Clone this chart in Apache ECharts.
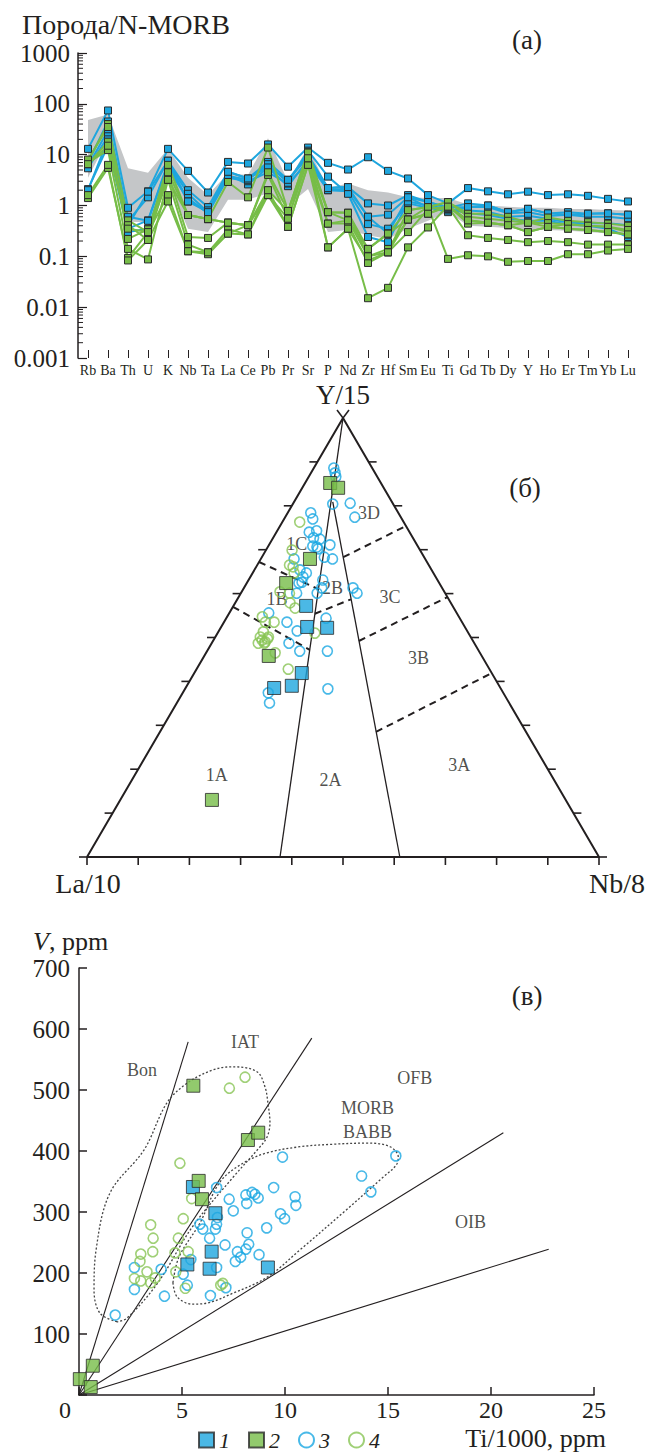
<!DOCTYPE html>
<html>
<head>
<meta charset="utf-8">
<script src="https://cdn.jsdelivr.net/npm/echarts@6.0.0/dist/echarts.min.js"></script>
<style>
html,body{margin:0;padding:0;background:#fff;overflow:hidden;}
#chart{width:646px;height:1452px;}
</style>
</head>
<body>
<div id="chart"></div>
<script>
// ================= Panel (a): spider diagram, rock / N-MORB =================
const elements = ['Rb','Ba','Th','U','K','Nb','Ta','La','Ce','Pb','Pr','Sr','P','Nd','Zr','Hf','Sm','Eu','Ti','Gd','Tb','Dy','Y','Ho','Er','Tm','Yb','Lu'];
const yTickLabelsA = ['0.001','0.01','0.1','1','10','100','1000'];

const blueA1 = [13, 74, 0.9, 1.9, 13, 4.8, 1.8, 7.2, 6.7, 15.9, 5.8, 13.8, 6.9, 5.1, 8.9, 4.8, 3.4, 1.6, 1.1, 2.2, 1.9, 1.66, 1.87, 1.6, 1.66, 1.55, 1.35, 1.2];
const blueA2 = [6, 30, 0.5, 1.45, 7.6, 2.0, 0.93, 4.6, 3.4, 7.2, 3.2, 10, 2.2, 2.3, 1.1, 1.0, 1.6, 1.17, 0.9, 1.1, 1.0, 0.74, 0.86, 0.7, 0.74, 0.69, 0.7, 0.66];
const blueA3 = [5.4, 23, 0.35, 0.51, 7, 1.7, 0.74, 4.0, 2.6, 5.6, 2.4, 8, 2.0, 2.1, 0.6, 0.66, 1.45, 0.93, 0.74, 0.93, 0.93, 0.7, 0.74, 0.62, 0.66, 0.6, 0.6, 0.55];
const blueA4 = [2.1, 15, 0.3, 0.35, 5, 1.4, 0.7, 3.5, 3.0, 4.5, 2.7, 7, 2.0, 1.9, 0.43, 0.35, 1.1, 0.9, 0.8, 0.8, 0.75, 0.6, 0.63, 0.55, 0.46, 0.45, 0.45, 0.41];
const blueA5 = [7, 45, 0.6, 0.5, 6.5, 1.2, 0.8, 3.8, 3.2, 6.5, 2.8, 12, 3.7, 1.7, 0.24, 0.19, 1.2, 1.0, 0.85, 0.7, 0.65, 0.55, 0.5, 0.5, 0.42, 0.4, 0.35, 0.24];
const blueA6 = [2.0, 20, 0.4, 1.87, 7.6, 1.2, 0.74, 4.6, 3.4, 5.6, 3.2, 9, 2.2, 2.3, 0.6, 0.28, 1.45, 1.17, 0.9, 0.93, 1.0, 0.74, 0.86, 0.7, 0.66, 0.69, 0.7, 0.66];

const greenA1 = [7.5, 40, 0.51, 0.3, 6.3, 0.65, 0.54, 2.9, 1.45, 13.8, 0.78, 11.4, 0.74, 0.72, 0.14, 0.28, 0.81, 0.93, 1.17, 0.69, 0.69, 0.6, 0.46, 0.58, 0.5, 0.47, 0.44, 0.4];
const greenA2 = [6.5, 18, 0.41, 0.21, 4.3, 0.24, 0.23, 0.46, 0.41, 4.0, 0.55, 8.5, 0.44, 0.51, 0.1, 0.14, 0.53, 0.69, 1.0, 0.51, 0.46, 0.41, 0.3, 0.38, 0.35, 0.33, 0.3, 0.27];
const greenA3 = [7, 12.3, 0.14, 0.087, 3.2, 0.17, 0.12, 0.34, 0.27, 2.0, 0.38, 6.3, 0.15, 0.35, 0.083, 0.12, 0.3, 0.85, 0.95, 0.26, 0.23, 0.21, 0.19, 0.2, 0.19, 0.17, 0.17, 0.17];
const greenA4 = [1.4, 5.5, 0.093, 0.3, 1.6, 0.126, 0.11, 0.28, 0.27, 1.6, 0.38, 6.3, 0.44, 0.44, 0.074, 0.12, 0.81, 0.93, 0.089, 0.105, 0.1, 0.078, 0.081, 0.081, 0.11, 0.11, 0.13, 0.14];
const greenA5 = [1.6, 6.3, 0.083, 0.21, 1.2, 0.126, 0.12, 0.28, 0.41, 1.6, 0.55, 8.5, 0.15, 0.35, 0.015, 0.024, 0.15, 0.37, 1.0, 0.44, 0.46, 0.41, 0.46, 0.38, 0.43, 0.4, 0.38, 0.3];
const greenA6 = [8, 35, 0.22, 0.34, 4.5, 0.65, 0.54, 0.46, 0.41, 4.5, 0.78, 11, 0.74, 0.51, 0.14, 0.28, 0.53, 0.93, 1.17, 0.6, 0.55, 0.5, 0.46, 0.45, 0.43, 0.4, 0.38, 0.33];
const greenA7 = [6.5, 15, 0.35, 0.3, 3.2, 0.65, 0.54, 0.46, 0.41, 2.0, 0.78, 8.5, 0.74, 0.72, 0.1, 0.12, 0.53, 0.69, 0.95, 0.51, 0.46, 0.41, 0.3, 0.38, 0.35, 0.33, 0.3, 0.27];

const greyUpper = [48, 62, 5.4, 4.4, 13, 3.5, 1.6, 4.3, 4.0, 21, 3.0, 14, 2.2, 2.7, 2.0, 1.8, 1.45, 1.4, 1.4, 1.05, 1.0, 0.95, 0.9, 0.9, 0.85, 0.85, 0.82, 0.8];
const greyLower = [3.5, 20, 0.48, 0.47, 3.0, 0.35, 0.3, 1.3, 1.3, 1.75, 1.0, 2.1, 0.3, 0.33, 0.26, 0.22, 0.35, 0.5, 0.75, 0.4, 0.38, 0.36, 0.33, 0.33, 0.32, 0.3, 0.28, 0.27];

// ================= Panel (б): La/10 – Y/15 – Nb/8 ternary, [La, Y, Nb] % =================
const triBlueSquares = [[28.6,57.2,14.2],[30.8,52.4,16.8],[27.0,52.2,20.8],[37.1,41.9,21.0],[40.5,39.0,20.5],[44.2,38.5,17.3]];
const triGreenSquares = [[9.9,85.2,4.9],[8.9,84.1,7.0],[22.5,67.9,9.6],[29.9,62.4,7.7],[41.6,45.8,12.6],[69.1,13.0,17.9]];
const triBlueCircles = [[7.5,88.6,3.9],[7.8,87.5,4.7],[8.1,86.6,5.3],[11.8,80.4,7.8],[8.3,80.6,11.1],[9.0,77.4,13.6],[17.1,78.4,4.5],[17.4,77.0,5.6],[19.6,74.0,6.4],[18.0,74.3,7.7],[19.4,72.7,7.9],[20.5,70.8,8.7],[19.8,70.6,9.6],[19.8,70.2,10.0],[17.0,71.1,11.9],[19.5,68.3,12.2],[18.1,67.9,14.0],[25.6,67.9,6.5],[25.7,65.4,8.9],[24.8,64.7,10.5],[26.7,62.6,10.7],[25.9,63.8,10.3],[27.4,62.4,10.2],[22.4,63.1,14.5],[23.5,61.3,15.2],[25.0,60.1,14.9],[17.4,61.3,21.3],[17.2,60.1,22.7],[29.0,60.1,10.9],[36.7,55.6,7.7],[34.2,53.5,12.3],[33.2,51.5,15.3],[26.1,54.4,19.5],[36.2,48.7,15.1],[35.0,46.9,18.1],[29.6,46.9,23.5],[33.8,38.3,27.9],[45.9,37.4,16.7],[46.8,35.1,18.1],[18.3,72.4,9.3]];
const triGreenCircles = [[20.3,76.3,3.4],[25.0,69.9,5.1],[26.7,66.1,7.2],[27.2,64.7,8.1],[32.1,60.4,7.5],[30.4,60.1,9.5],[31.4,57.9,10.7],[31.0,56.7,12.3],[38.4,54.7,6.9],[38.4,53.5,8.1],[36.7,53.5,9.8],[39.9,51.3,8.8],[41.1,50.1,8.8],[41.1,49.4,9.5],[40.7,49.0,10.3],[39.5,50.1,10.4],[42.2,48.7,9.1],[41.0,48.7,10.3],[39.9,49.7,10.4],[40.0,46.5,13.5],[39.3,42.8,17.9],[30.0,51.0,19.0],[27.2,66.5,6.3]];
// field boundaries [La, Y, Nb]
const triLineLeft = [[0,100,0],[62.3,0,37.7]];
const triLineRight = [[11.55,80.9,7.55],[38.9,0,61.1]];
const triDashed = [
  [[32.8,67.2,0],[24.3,61.0,14.7]],
  [[43.0,57.0,0],[32.9,47.2,19.9]],
  [[27.8,55.4,16.8],[19.1,58.7,22.2]],
  [[15.8,68.3,15.9],[0,75.4,24.6]],
  [[22.3,49.2,28.5],[0,59.2,40.8]],
  [[29.3,28.5,42.2],[0,41.9,58.1]]
];
const triFieldNames = ['1A','1B','1C','2A','2B','3A','3B','3C','3D'];
const triFieldPos = [[65.3,18.7,16.0],[33.5,58.8,7.7],[23.4,71.3,5.3],[43.7,17.5,38.8],[21.4,61.3,17.3],[16.8,21.0,62.2],[12.6,45.3,42.1],[11.2,59.2,29.6],[5.7,78.4,15.9]];

// ================= Panel (в): V vs Ti/1000 =================
const vBlueSquares = [[5.53,341],[6.62,298],[6.44,235],[5.26,214],[6.34,207],[9.17,209]];
const vGreenSquares = [[5.55,507],[8.2,418],[8.7,430],[5.81,351],[5.97,321],[0.67,48],[0.04,26],[0.57,13]];
const vBlueCircles = [[9.88,390],[15.38,392],[13.72,359],[14.17,333],[6.68,340],[9.45,340],[8.1,328],[8.4,332],[8.54,329],[8.7,323],[7.29,321],[10.49,325],[10.53,311],[8.14,314],[7.49,302],[9.78,297],[9.98,289],[9.11,274],[6.72,291],[6.68,280],[6.62,272],[5.87,280],[6.01,272],[8.16,266],[6.34,257],[7.09,246],[8.24,247],[8.1,239],[7.69,235],[7.85,226],[7.59,219],[8.74,230],[5.43,222],[6.68,209],[5.06,198],[5.26,180],[7.13,176],[6.38,163],[4.15,162],[3.99,206],[2.69,209],[2.69,173],[1.76,131]];
const vGreenCircles = [[7.3,503],[8.06,521],[4.9,380],[5.06,289],[3.48,279],[3.6,257],[4.82,257],[3.58,235],[4.66,233],[5.3,235],[3.0,231],[2.96,219],[2.69,191],[3.0,187],[3.3,202],[3.7,192],[3.48,184],[4.7,202],[5.16,175],[6.88,180],[6.98,183],[5.47,322]];
const vRatioNames = ['10','20','50','100'];
const vRatioEnds = [[5.3,579],[11.3,585],[20.6,430],[22.8,239]];
const iatField = [[1.84,120],[1.02,134],[0.73,172],[0.83,238],[1.5,331],[3.16,402],[4.27,479],[5.24,511],[6.5,533],[7.48,538],[8.64,530],[9.03,505],[9.17,479],[9.27,446],[9.13,423],[8.79,407],[7.48,357],[5.49,275],[3.83,184],[2.33,126],[1.84,120]];
const morbField = [[4.56,184],[4.76,161],[5.49,149],[6.26,151],[7.48,167],[9.13,193],[10.73,238],[12.96,303],[14.76,357],[15.4,377],[15.5,390],[15.1,407],[14.0,413],[12.3,411],[10.73,407],[9.13,397],[7.96,380],[6.84,349],[5.87,282],[4.85,226],[4.56,184]];
const vFieldNames = ['Bon','IAT','OFB','MORB','BABB','OIB'];
const vFieldPos = [[3.06,533],[8.06,579],[16.3,520],[14.0,470],[14.0,431],[19.0,284]];

// ================= styling =================
const FONT = '"Liberation Serif", "Times New Roman", serif';
const TXT = '#231f20';
const BLUE = '#1ea6de';
const GREEN = '#77bd48';
const BLUE_C = '#1aa8e2';
const GREEN_C = '#88c455';
const EDGE = '#2b2b2b';

const tern = (t) => { const s = t[0] + t[1] + t[2]; return [(t[2] + t[1] / 2) / s * 100, t[1] / s * 100]; };

const series = [];

// grey field
series.push({
  type: 'custom', xAxisIndex: 0, yAxisIndex: 0, silent: true, z: 1,
  data: [[0, 1]],
  renderItem: (params, api) => {
    const pts = [];
    for (let i = 0; i < elements.length; i++) pts.push(api.coord([i, greyUpper[i]]));
    for (let i = elements.length - 1; i >= 0; i--) pts.push(api.coord([i, greyLower[i]]));
    return { type: 'polygon', shape: { points: pts }, style: { fill: '#c4c6c8' } };
  }
});
// minor log ticks
const minorTicks = [];
for (let k = -3; k < 3; k++) for (let m = 2; m <= 9; m++) minorTicks.push([0, m * Math.pow(10, k)]);
series.push({
  type: 'custom', xAxisIndex: 0, yAxisIndex: 0, silent: true, z: 2,
  data: minorTicks,
  renderItem: (params, api) => {
    const y = api.coord([0, api.value(1)])[1];
    const x0 = params.coordSys.x;
    return { type: 'line', shape: { x1: x0, y1: y, x2: x0 + 5, y2: y }, style: { stroke: TXT, lineWidth: 1 } };
  }
});
const lineA = (arr, color, name) => ({
  type: 'line', name, xAxisIndex: 0, yAxisIndex: 0, data: arr, silent: true, z: 3,
  symbol: 'rect', symbolSize: 7,
  lineStyle: { color, width: 2 },
  itemStyle: { color, borderColor: EDGE, borderWidth: 1 }
});
[blueA1, blueA2, blueA3, blueA4, blueA5, blueA6].forEach((a, i) => series.push(lineA(a, BLUE, 'blueA' + i)));
[greenA1, greenA2, greenA3, greenA4, greenA5, greenA6, greenA7].forEach((a, i) => series.push(lineA(a, GREEN, 'greenA' + i)));

// ---- ternary ----
const triLine = (pts, width, type) => ({
  type: 'line', xAxisIndex: 1, yAxisIndex: 1, data: pts.map(tern), silent: true, z: 2,
  symbol: 'none', lineStyle: { color: TXT, width, type: type || 'solid' }
});
series.push(triLine([[100,0,0],[0,100,0],[0,0,100],[100,0,0]], 2));
series.push(triLine(triLineLeft, 1.3));
series.push(triLine(triLineRight, 1.3));
triDashed.forEach(d => series.push(triLine(d, 2, [7, 5])));
// ternary ticks
const triTicks = [];
for (let t = 0; t <= 10; t++) triTicks.push([...tern([100 - 10 * t, 0, 10 * t]), 2]);
for (let t = 0; t <= 9; t++) { triTicks.push([...tern([100 - 10 * t, 10 * t, 0]), 0]); triTicks.push([...tern([0, 10 * t, 100 - 10 * t]), 1]); }
triTicks.push([...tern([0, 100, 0]), 3]);
series.push({
  type: 'custom', xAxisIndex: 1, yAxisIndex: 1, silent: true, z: 2,
  data: triTicks,
  renderItem: (params, api) => {
    const p = api.coord([api.value(0), api.value(1)]);
    const e = api.value(2);
    const st = { stroke: TXT, lineWidth: 1.6 };
    if (e === 3) return { type: 'group', children: [
      { type: 'line', shape: { x1: p[0], y1: p[1], x2: p[0] - 6, y2: p[1] - 8 }, style: st },
      { type: 'line', shape: { x1: p[0], y1: p[1], x2: p[0] + 6, y2: p[1] - 8 }, style: st }] };
    let x2 = p[0], y2 = p[1];
    if (e === 0) x2 -= 8; else if (e === 1) x2 += 8; else y2 += 8;
    return { type: 'line', shape: { x1: p[0], y1: p[1], x2, y2 }, style: st };
  }
});
series.push({
  type: 'scatter', xAxisIndex: 1, yAxisIndex: 1, silent: true, z: 5, symbolSize: 1,
  itemStyle: { color: 'rgba(0,0,0,0)' },
  label: { show: true, position: 'inside', formatter: '{b}', fontFamily: FONT, fontSize: 18, color: TXT },
  data: triFieldNames.map((n, i) => ({ name: n, value: tern(triFieldPos[i]) }))
});
const circleStyle = (c) => ({ color: 'rgba(0,0,0,0)', borderColor: c, borderWidth: 1.6 });
const squareStyle = (c) => ({ color: c, borderColor: EDGE, borderWidth: 1 });
series.push({ type: 'scatter', name: '3', xAxisIndex: 1, yAxisIndex: 1, symbol: 'circle', symbolSize: 10, itemStyle: circleStyle(BLUE_C), data: triBlueCircles.map(tern), z: 6, silent: true });
series.push({ type: 'scatter', name: '4', xAxisIndex: 1, yAxisIndex: 1, symbol: 'circle', symbolSize: 10, itemStyle: circleStyle(GREEN_C), data: triGreenCircles.map(tern), z: 6, silent: true });
series.push({ type: 'scatter', name: '1', xAxisIndex: 1, yAxisIndex: 1, symbol: 'rect', symbolSize: 13, itemStyle: squareStyle(BLUE), data: triBlueSquares.map(tern), z: 7, silent: true });
series.push({ type: 'scatter', name: '2', xAxisIndex: 1, yAxisIndex: 1, symbol: 'rect', symbolSize: 13, itemStyle: squareStyle(GREEN), data: triGreenSquares.map(tern), z: 7, silent: true });

// ---- panel (в) ----
const labelPos = [
  { position: 'top', distance: 2, offset: [2, 0] },
  { position: 'top', distance: 0, offset: [9, 2] },
  { position: 'right', distance: 4, offset: [0, -2] },
  { position: 'right', distance: 2, offset: [0, 0] }
];
vRatioEnds.forEach((e, i) => series.push({
  type: 'line', xAxisIndex: 2, yAxisIndex: 2, silent: true, symbol: 'none', z: 2,
  lineStyle: { color: TXT, width: 1.1 },
  data: [[0, 0], { value: e, label: Object.assign({ show: true, formatter: vRatioNames[i], fontFamily: FONT, fontSize: 18, color: TXT }, labelPos[i]) }]
}));
[iatField, morbField].forEach(f => series.push({
  type: 'line', xAxisIndex: 2, yAxisIndex: 2, silent: true, symbol: 'none', smooth: 0.35, z: 2,
  lineStyle: { color: '#444', width: 1.3, type: [2, 2] }, data: f
}));
series.push({
  type: 'scatter', xAxisIndex: 2, yAxisIndex: 2, silent: true, z: 5, symbolSize: 1,
  itemStyle: { color: 'rgba(0,0,0,0)' },
  label: { show: true, position: 'inside', formatter: '{b}', fontFamily: FONT, fontSize: 18, color: TXT },
  data: vFieldNames.map((n, i) => ({ name: n, value: vFieldPos[i] }))
});
series.push({ type: 'scatter', name: '3', xAxisIndex: 2, yAxisIndex: 2, symbol: 'circle', symbolSize: 10, itemStyle: circleStyle(BLUE_C), data: vBlueCircles, z: 6, silent: true });
series.push({ type: 'scatter', name: '4', xAxisIndex: 2, yAxisIndex: 2, symbol: 'circle', symbolSize: 10, itemStyle: circleStyle(GREEN_C), data: vGreenCircles, z: 6, silent: true });
series.push({ type: 'scatter', name: '1', xAxisIndex: 2, yAxisIndex: 2, symbol: 'rect', symbolSize: 13, itemStyle: squareStyle(BLUE), data: vBlueSquares, z: 7, silent: true });
series.push({ type: 'scatter', name: '2', xAxisIndex: 2, yAxisIndex: 2, symbol: 'rect', symbolSize: 13, itemStyle: squareStyle(GREEN), data: vGreenSquares, z: 7, silent: true });

const txt = (text, x, y, size, align, extra) => ({
  type: 'text', x, y, silent: true,
  style: Object.assign({ text, fontFamily: FONT, fontSize: size, fill: TXT, align: align || 'center', verticalAlign: 'middle' }, extra || {})
});

const option = {
  animation: false,
  backgroundColor: '#fff',
  textStyle: { fontFamily: FONT },
  grid: [
    { left: 78, top: 53, width: 560, height: 305 },
    { left: 87, top: 418, width: 512, height: 439 },
    { left: 79, top: 968, width: 515, height: 427 }
  ],
  xAxis: [
    { gridIndex: 0, type: 'category', data: elements, boundaryGap: true,
      axisLine: { show: false },
      axisTick: { show: true, inside: true, length: 8, alignWithLabel: true, interval: 0, lineStyle: { color: TXT, width: 1 } },
      axisLabel: { interval: 0, fontFamily: FONT, fontSize: 14, color: TXT, margin: 5 },
      splitLine: { show: false } },
    { gridIndex: 1, type: 'value', min: 0, max: 100, show: false },
    { gridIndex: 2, type: 'value', min: 0, max: 25, interval: 5,
      axisLine: { show: true, lineStyle: { color: TXT, width: 1.5 } },
      axisTick: { show: true, inside: true, length: 8, lineStyle: { color: TXT, width: 1.5 } },
      axisLabel: { fontFamily: FONT, fontSize: 24, color: TXT, margin: 4, lineHeight: 22,
        formatter: v => v === 0 ? '{z|0}' : String(v), rich: { z: { fontFamily: FONT, fontSize: 24, color: TXT, lineHeight: 22, padding: [0, 28, 0, 0] } } },
      splitLine: { show: false } }
  ],
  yAxis: [
    { gridIndex: 0, type: 'log', logBase: 10, min: 0.001, max: 1000, interval: 1,
      axisLine: { show: true, lineStyle: { color: TXT, width: 1.5 } },
      axisTick: { show: true, inside: true, length: 9, lineStyle: { color: TXT, width: 1.2 } },
      minorTick: { show: false },
      axisLabel: { fontFamily: FONT, fontSize: 25, color: TXT, margin: 8,
        formatter: v => yTickLabelsA[Math.round(Math.log10(v)) + 3] },
      splitLine: { show: false } },
    { gridIndex: 1, type: 'value', min: 0, max: 100, show: false },
    { gridIndex: 2, type: 'value', min: 0, max: 700, interval: 100,
      axisLine: { show: true, lineStyle: { color: TXT, width: 1.5 } },
      axisTick: { show: true, inside: true, length: 8, lineStyle: { color: TXT, width: 1.5 } },
      axisLabel: { fontFamily: FONT, fontSize: 25, color: TXT, margin: 9, formatter: v => v === 0 ? '' : String(v) },
      splitLine: { show: false } }
  ],
  legend: {
    data: ['1', '2', '3', '4'], left: 198, top: 1429, padding: 0,
    itemWidth: 15, itemHeight: 15, itemGap: 18, selectedMode: false,
    textStyle: { fontFamily: FONT, fontSize: 22, fontStyle: 'italic', color: TXT, lineHeight: 18 }
  },
  graphic: [
    txt('Порода/N-MORB', 22, 24, 28, 'left'),
    txt('(a)', 527, 40, 27),
    txt('Y/15', 343, 395, 27),
    txt('(б)', 525, 488, 27),
    txt('La/10', 88, 883, 28),
    txt('Nb/8', 617, 883, 28),
    { type: 'text', x: 33, y: 941, silent: true,
      style: { text: '{i|V}, ppm', fontFamily: FONT, fontSize: 26, fill: TXT, align: 'left', verticalAlign: 'middle',
        rich: { i: { fontStyle: 'italic', fontFamily: FONT, fontSize: 26, fill: TXT } } } },
    txt('(в)', 527, 996, 27),
    txt('Ti/1000, ppm', 606, 1438, 26, 'right', { lineHeight: 22 })
  ],
  series
};

const chart = echarts.init(document.getElementById('chart'), null, { renderer: 'svg', width: 646, height: 1452 });
chart.setOption(option);
</script>
</body>
</html>
